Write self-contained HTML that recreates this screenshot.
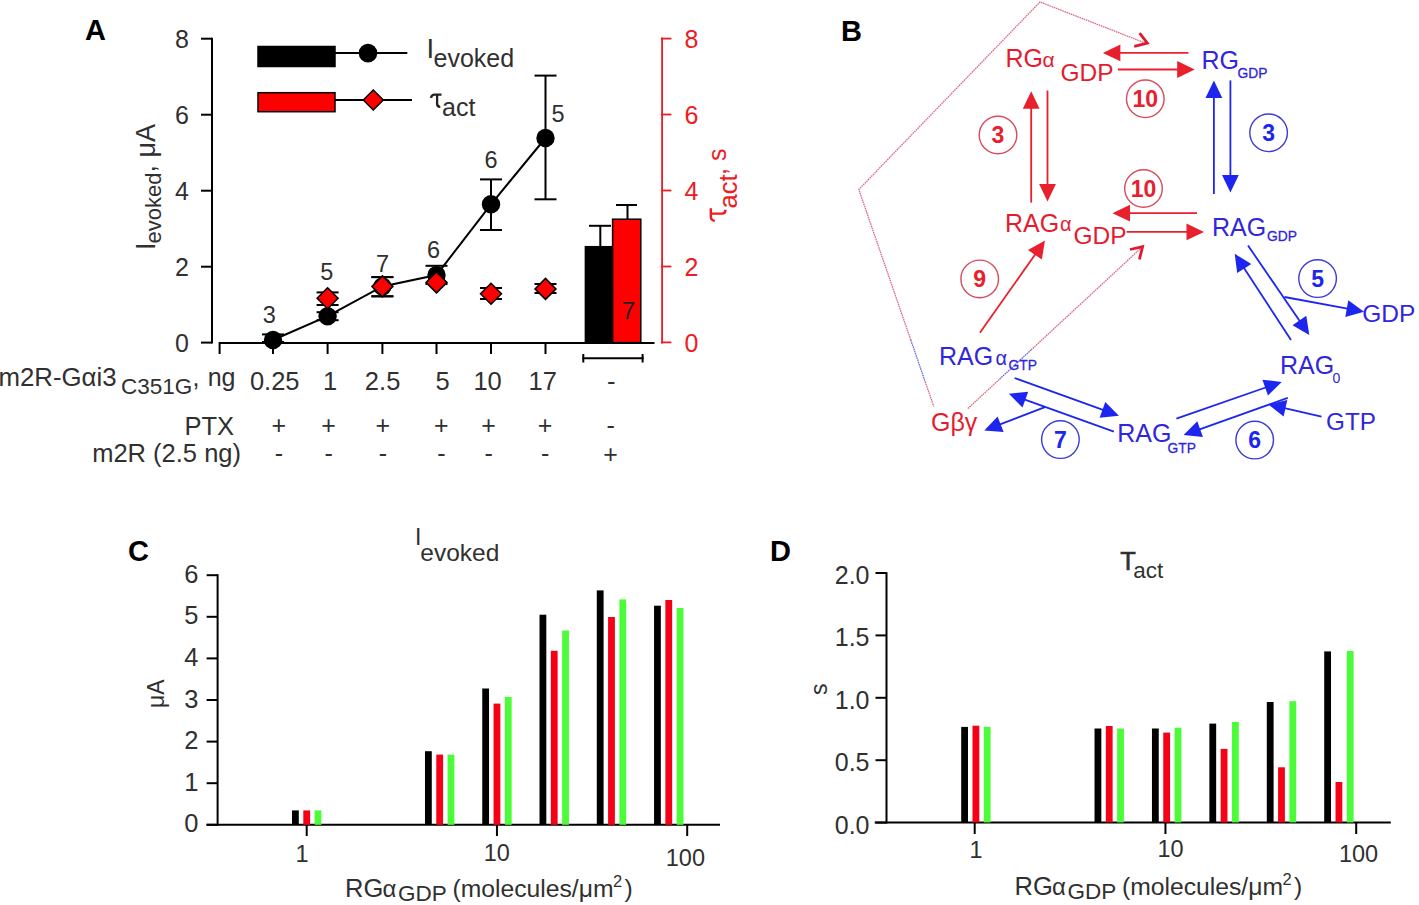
<!DOCTYPE html>
<html><head><meta charset="utf-8"><style>
html,body{margin:0;padding:0;background:#fff;width:1419px;height:905px;overflow:hidden}
svg{display:block;font-family:"Liberation Sans",sans-serif}
</style></head><body>
<svg width="1419" height="905" viewBox="0 0 1419 905">
<rect width="1419" height="905" fill="#fff"/>
<text x="85" y="40" font-size="29" text-anchor="start" fill="#000" font-weight="bold" >A</text>
<line x1="212" y1="37.7" x2="212" y2="343.6" stroke="#000" stroke-width="2" />
<line x1="201" y1="342.6" x2="212" y2="342.6" stroke="#000" stroke-width="2" />
<text x="189" y="351.8" font-size="25" text-anchor="end" fill="#303030" font-weight="normal" >0</text>
<line x1="201" y1="266.7" x2="212" y2="266.7" stroke="#000" stroke-width="2" />
<text x="189" y="275.9" font-size="25" text-anchor="end" fill="#303030" font-weight="normal" >2</text>
<line x1="201" y1="190.7" x2="212" y2="190.7" stroke="#000" stroke-width="2" />
<text x="189" y="199.89999999999998" font-size="25" text-anchor="end" fill="#303030" font-weight="normal" >4</text>
<line x1="201" y1="114.7" x2="212" y2="114.7" stroke="#000" stroke-width="2" />
<text x="189" y="123.9" font-size="25" text-anchor="end" fill="#303030" font-weight="normal" >6</text>
<line x1="201" y1="38.7" x2="212" y2="38.7" stroke="#000" stroke-width="2" />
<text x="189" y="47.900000000000006" font-size="25" text-anchor="end" fill="#303030" font-weight="normal" >8</text>
<g transform="translate(155,250) rotate(-90)">
<text x="0" y="0" font-size="27" fill="#303030">I</text>
<text x="6.5" y="6" font-size="22" fill="#303030">evoked</text>
<text x="77.4" y="0" font-size="27" fill="#303030">, μA</text>
</g>
<line x1="219.6" y1="343" x2="654.5" y2="343" stroke="#000" stroke-width="2" />
<line x1="219.6" y1="342" x2="219.6" y2="354" stroke="#000" stroke-width="2" />
<line x1="273" y1="343" x2="273" y2="354" stroke="#000" stroke-width="2" />
<line x1="327.6" y1="343" x2="327.6" y2="354" stroke="#000" stroke-width="2" />
<line x1="382.4" y1="343" x2="382.4" y2="354" stroke="#000" stroke-width="2" />
<line x1="436.5" y1="343" x2="436.5" y2="354" stroke="#000" stroke-width="2" />
<line x1="491" y1="343" x2="491" y2="354" stroke="#000" stroke-width="2" />
<line x1="545.5" y1="343" x2="545.5" y2="354" stroke="#000" stroke-width="2" />
<line x1="582.3" y1="358.2" x2="643.6" y2="358.2" stroke="#000" stroke-width="2" />
<line x1="583.3" y1="354" x2="583.3" y2="362.5" stroke="#000" stroke-width="2" />
<line x1="642.6" y1="354" x2="642.6" y2="362.5" stroke="#000" stroke-width="2" />
<line x1="662.1" y1="37.6" x2="662.1" y2="343.4" stroke="#ec1c24" stroke-width="1.8" />
<line x1="661" y1="342.4" x2="671.4" y2="342.4" stroke="#ec1c24" stroke-width="1.8" />
<text x="684.5" y="351.59999999999997" font-size="25" text-anchor="start" fill="#ec1c24" font-weight="normal" >0</text>
<line x1="661" y1="266.5" x2="671.4" y2="266.5" stroke="#ec1c24" stroke-width="1.8" />
<text x="684.5" y="275.7" font-size="25" text-anchor="start" fill="#ec1c24" font-weight="normal" >2</text>
<line x1="661" y1="190.5" x2="671.4" y2="190.5" stroke="#ec1c24" stroke-width="1.8" />
<text x="684.5" y="199.7" font-size="25" text-anchor="start" fill="#ec1c24" font-weight="normal" >4</text>
<line x1="661" y1="114.5" x2="671.4" y2="114.5" stroke="#ec1c24" stroke-width="1.8" />
<text x="684.5" y="123.7" font-size="25" text-anchor="start" fill="#ec1c24" font-weight="normal" >6</text>
<line x1="661" y1="38.6" x2="671.4" y2="38.6" stroke="#ec1c24" stroke-width="1.8" />
<text x="684.5" y="47.8" font-size="25" text-anchor="start" fill="#ec1c24" font-weight="normal" >8</text>
<g transform="translate(726.3,222) rotate(-90) translate(0.5,0) scale(1.2)"><path d="M0.4,-9.6 Q1.3,-12.9 4.2,-12.9 L11,-12.9 M6.6,-12.9 L6.6,-3.6 Q6.7,-0.6 9.8,-0.7" fill="none" stroke="#ec1c24" stroke-width="2.0"/></g>
<g transform="translate(726.3,222) rotate(-90)">
<text x="13.5" y="10.9" font-size="25.5" fill="#ec1c24">act</text>
<text x="47" y="0" font-size="25" fill="#ec1c24">,</text>
<text x="61" y="0" font-size="25" fill="#ec1c24">s</text>
</g>
<rect x="585.4" y="246.7" width="27.2" height="95.9" fill="#000" stroke="#000" stroke-width="1.5"/>
<rect x="612.6" y="219.2" width="28.2" height="123.4" fill="#fd0000" stroke="#000" stroke-width="1.5"/>
<line x1="600.3" y1="246.7" x2="600.3" y2="225.8" stroke="#000" stroke-width="2" />
<line x1="589" y1="225.8" x2="611" y2="225.8" stroke="#000" stroke-width="2" />
<line x1="627.5" y1="219.2" x2="627.5" y2="205" stroke="#000" stroke-width="2" />
<line x1="616" y1="205" x2="637" y2="205" stroke="#000" stroke-width="2" />
<text x="628.5" y="319" font-size="24" text-anchor="middle" fill="#222" font-weight="normal" >7</text>
<polyline fill="none" stroke="#000" stroke-width="2" points="273,340 327.6,316.2 382.4,286.4 436.5,275.1 491,204.3 545.5,138"/>
<line x1="273" y1="334.4" x2="273" y2="342" stroke="#000" stroke-width="2" />
<line x1="262" y1="334.4" x2="284" y2="334.4" stroke="#000" stroke-width="2" />
<line x1="262" y1="342" x2="284" y2="342" stroke="#000" stroke-width="2" />
<line x1="327.6" y1="312.2" x2="327.6" y2="320.2" stroke="#000" stroke-width="2" />
<line x1="316.6" y1="312.2" x2="338.6" y2="312.2" stroke="#000" stroke-width="2" />
<line x1="316.6" y1="320.2" x2="338.6" y2="320.2" stroke="#000" stroke-width="2" />
<line x1="382.4" y1="277.1" x2="382.4" y2="296.3" stroke="#000" stroke-width="2" />
<line x1="371.4" y1="277.1" x2="393.4" y2="277.1" stroke="#000" stroke-width="2" />
<line x1="371.4" y1="296.3" x2="393.4" y2="296.3" stroke="#000" stroke-width="2" />
<line x1="436.5" y1="265.8" x2="436.5" y2="284" stroke="#000" stroke-width="2" />
<line x1="425.5" y1="265.8" x2="447.5" y2="265.8" stroke="#000" stroke-width="2" />
<line x1="425.5" y1="284" x2="447.5" y2="284" stroke="#000" stroke-width="2" />
<line x1="491" y1="179.4" x2="491" y2="230" stroke="#000" stroke-width="2" />
<line x1="480" y1="179.4" x2="502" y2="179.4" stroke="#000" stroke-width="2" />
<line x1="480" y1="230" x2="502" y2="230" stroke="#000" stroke-width="2" />
<line x1="545.5" y1="75.6" x2="545.5" y2="199.3" stroke="#000" stroke-width="2" />
<line x1="534.5" y1="75.6" x2="556.5" y2="75.6" stroke="#000" stroke-width="2" />
<line x1="534.5" y1="199.3" x2="556.5" y2="199.3" stroke="#000" stroke-width="2" />
<circle cx="273" cy="340" r="9.2" fill="#000"/>
<circle cx="327.6" cy="316.2" r="9.2" fill="#000"/>
<circle cx="382.4" cy="286.4" r="9.2" fill="#000"/>
<circle cx="436.5" cy="275.1" r="9.2" fill="#000"/>
<circle cx="491" cy="204.3" r="9.2" fill="#000"/>
<circle cx="545.5" cy="138" r="9.2" fill="#000"/>
<line x1="316.6" y1="292.4" x2="338.6" y2="292.4" stroke="#000" stroke-width="2" />
<line x1="316.6" y1="305" x2="338.6" y2="305" stroke="#000" stroke-width="2" />
<line x1="327.6" y1="292.4" x2="327.6" y2="305" stroke="#000" stroke-width="2" />
<polygon points="327.6,287.8 338.1,298.3 327.6,308.8 317.1,298.3" fill="#fd0000" stroke="#000" stroke-width="1.5"/>
<line x1="371.4" y1="277.1" x2="393.4" y2="277.1" stroke="#000" stroke-width="2" />
<line x1="371.4" y1="296.3" x2="393.4" y2="296.3" stroke="#000" stroke-width="2" />
<line x1="382.4" y1="277.1" x2="382.4" y2="296.3" stroke="#000" stroke-width="2" />
<polygon points="382.4,275.9 392.9,286.4 382.4,296.9 371.9,286.4" fill="#fd0000" stroke="#000" stroke-width="1.5"/>
<polygon points="436.5,271.9 447.0,282.4 436.5,292.9 426.0,282.4" fill="#fd0000" stroke="#000" stroke-width="1.5"/>
<line x1="480" y1="288" x2="502" y2="288" stroke="#000" stroke-width="2" />
<line x1="480" y1="299" x2="502" y2="299" stroke="#000" stroke-width="2" />
<line x1="491" y1="288" x2="491" y2="299" stroke="#000" stroke-width="2" />
<polygon points="491,283.3 501.5,293.8 491,304.3 480.5,293.8" fill="#fd0000" stroke="#000" stroke-width="1.5"/>
<line x1="534.5" y1="284" x2="556.5" y2="284" stroke="#000" stroke-width="2" />
<line x1="534.5" y1="293" x2="556.5" y2="293" stroke="#000" stroke-width="2" />
<line x1="545.5" y1="284" x2="545.5" y2="293" stroke="#000" stroke-width="2" />
<polygon points="545.5,278.4 556.0,288.9 545.5,299.4 535.0,288.9" fill="#fd0000" stroke="#000" stroke-width="1.5"/>
<text x="269.4" y="322.6" font-size="23.5" text-anchor="middle" fill="#303030" font-weight="normal" >3</text>
<text x="326.8" y="280" font-size="23.5" text-anchor="middle" fill="#303030" font-weight="normal" >5</text>
<text x="382.5" y="272.1" font-size="23.5" text-anchor="middle" fill="#303030" font-weight="normal" >7</text>
<text x="433.5" y="258.3" font-size="23.5" text-anchor="middle" fill="#303030" font-weight="normal" >6</text>
<text x="491" y="167.5" font-size="23.5" text-anchor="middle" fill="#303030" font-weight="normal" >6</text>
<text x="558" y="122" font-size="23.5" text-anchor="middle" fill="#303030" font-weight="normal" >5</text>
<rect x="258" y="46.5" width="77" height="20" fill="#000" stroke="#000" stroke-width="1.5"/>
<line x1="335" y1="53.1" x2="407.3" y2="53.1" stroke="#000" stroke-width="2" />
<circle cx="368" cy="53.1" r="9.3" fill="#000"/>
<rect x="258" y="92.7" width="77" height="19" fill="#fd0000" stroke="#000" stroke-width="1.5"/>
<line x1="335" y1="100" x2="412" y2="100" stroke="#000" stroke-width="2" />
<polygon points="373.3,90 383.3,100 373.3,110 363.3,100" fill="#fd0000" stroke="#000" stroke-width="1.5"/>
<text x="426.5" y="57.6" font-size="27.5" text-anchor="start" fill="#303030" font-weight="normal" >I</text>
<text x="433.5" y="66.5" font-size="25" text-anchor="start" fill="#303030" font-weight="normal" >evoked</text>
<g transform="translate(430.5,107.5)"><path d="M0.4,-9.6 Q1.3,-12.9 4.2,-12.9 L11,-12.9 M6.6,-12.9 L6.6,-3.6 Q6.7,-0.6 9.8,-0.7" fill="none" stroke="#222" stroke-width="2.3"/></g>
<text x="442" y="115.5" font-size="25" text-anchor="start" fill="#303030" font-weight="normal" >act</text>
<text x="-1.5" y="386.3" font-size="25.8" text-anchor="start" fill="#303030" font-weight="normal" >m2R-Gαi3</text>
<text x="121" y="393.9" font-size="22.5" text-anchor="start" fill="#303030" font-weight="normal" >C351G</text>
<text x="192.5" y="386.3" font-size="25" text-anchor="start" fill="#303030" font-weight="normal" >,</text>
<text x="207.7" y="386" font-size="25" text-anchor="start" fill="#303030" font-weight="normal" >ng</text>
<text x="274.7" y="389.5" font-size="25.5" text-anchor="middle" fill="#303030" font-weight="normal" >0.25</text>
<text x="330" y="389.5" font-size="25.5" text-anchor="middle" fill="#303030" font-weight="normal" >1</text>
<text x="382.6" y="389.5" font-size="25.5" text-anchor="middle" fill="#303030" font-weight="normal" >2.5</text>
<text x="442.7" y="389.5" font-size="25.5" text-anchor="middle" fill="#303030" font-weight="normal" >5</text>
<text x="487.6" y="389.5" font-size="25.5" text-anchor="middle" fill="#303030" font-weight="normal" >10</text>
<text x="542.8" y="389.5" font-size="25.5" text-anchor="middle" fill="#303030" font-weight="normal" >17</text>
<text x="611.3" y="389.5" font-size="25.5" text-anchor="middle" fill="#303030" font-weight="normal" >-</text>
<text x="234" y="434.5" font-size="25.5" text-anchor="end" fill="#303030" font-weight="normal" >PTX</text>
<text x="278.8" y="434" font-size="25" text-anchor="middle" fill="#303030" font-weight="normal" >+</text>
<text x="328.6" y="434" font-size="25" text-anchor="middle" fill="#303030" font-weight="normal" >+</text>
<text x="382.8" y="434" font-size="25" text-anchor="middle" fill="#303030" font-weight="normal" >+</text>
<text x="441.3" y="434" font-size="25" text-anchor="middle" fill="#303030" font-weight="normal" >+</text>
<text x="488.6" y="434" font-size="25" text-anchor="middle" fill="#303030" font-weight="normal" >+</text>
<text x="545.0999999999999" y="434" font-size="25" text-anchor="middle" fill="#303030" font-weight="normal" >+</text>
<text x="610.6" y="434" font-size="25" text-anchor="middle" fill="#303030" font-weight="normal" >-</text>
<text x="241" y="462" font-size="25.5" text-anchor="end" fill="#303030" font-weight="normal" >m2R (2.5 ng)</text>
<text x="278.8" y="462" font-size="25" text-anchor="middle" fill="#303030" font-weight="normal" >-</text>
<text x="328.6" y="462" font-size="25" text-anchor="middle" fill="#303030" font-weight="normal" >-</text>
<text x="382.8" y="462" font-size="25" text-anchor="middle" fill="#303030" font-weight="normal" >-</text>
<text x="441.3" y="462" font-size="25" text-anchor="middle" fill="#303030" font-weight="normal" >-</text>
<text x="488.6" y="462" font-size="25" text-anchor="middle" fill="#303030" font-weight="normal" >-</text>
<text x="545.0999999999999" y="462" font-size="25" text-anchor="middle" fill="#303030" font-weight="normal" >-</text>
<text x="610.6" y="463" font-size="25" text-anchor="middle" fill="#303030" font-weight="normal" >+</text>
<text x="128" y="561.3" font-size="29" text-anchor="start" fill="#000" font-weight="bold" >C</text>
<line x1="217.6" y1="574.2" x2="217.6" y2="825.8" stroke="#000" stroke-width="2" />
<line x1="206.6" y1="824.8" x2="217.6" y2="824.8" stroke="#000" stroke-width="2" />
<text x="198.5" y="832.3" font-size="25.5" text-anchor="end" fill="#303030" font-weight="normal" >0</text>
<line x1="206.6" y1="783.1999999999999" x2="217.6" y2="783.1999999999999" stroke="#000" stroke-width="2" />
<text x="198.5" y="790.6999999999999" font-size="25.5" text-anchor="end" fill="#303030" font-weight="normal" >1</text>
<line x1="206.6" y1="741.5999999999999" x2="217.6" y2="741.5999999999999" stroke="#000" stroke-width="2" />
<text x="198.5" y="749.0999999999999" font-size="25.5" text-anchor="end" fill="#303030" font-weight="normal" >2</text>
<line x1="206.6" y1="700.0" x2="217.6" y2="700.0" stroke="#000" stroke-width="2" />
<text x="198.5" y="707.5" font-size="25.5" text-anchor="end" fill="#303030" font-weight="normal" >3</text>
<line x1="206.6" y1="658.4" x2="217.6" y2="658.4" stroke="#000" stroke-width="2" />
<text x="198.5" y="665.9" font-size="25.5" text-anchor="end" fill="#303030" font-weight="normal" >4</text>
<line x1="206.6" y1="616.8" x2="217.6" y2="616.8" stroke="#000" stroke-width="2" />
<text x="198.5" y="624.3" font-size="25.5" text-anchor="end" fill="#303030" font-weight="normal" >5</text>
<line x1="206.6" y1="575.1999999999999" x2="217.6" y2="575.1999999999999" stroke="#000" stroke-width="2" />
<text x="198.5" y="582.6999999999999" font-size="25.5" text-anchor="end" fill="#303030" font-weight="normal" >6</text>
<text transform="translate(164,708) rotate(-90)" font-size="23" fill="#303030">μA</text>
<line x1="206.5" y1="824.8" x2="720" y2="824.8" stroke="#000" stroke-width="2" />
<line x1="306.7" y1="824.8" x2="306.7" y2="836" stroke="#000" stroke-width="2" />
<line x1="496.95" y1="824.8" x2="496.95" y2="836" stroke="#000" stroke-width="2" />
<line x1="687.2" y1="824.8" x2="687.2" y2="836" stroke="#000" stroke-width="2" />
<text x="302" y="862" font-size="23.5" text-anchor="middle" fill="#303030" font-weight="normal" >1</text>
<text x="496.7" y="861" font-size="23.5" text-anchor="middle" fill="#303030" font-weight="normal" >10</text>
<text x="685.4" y="865.5" font-size="23.5" text-anchor="middle" fill="#303030" font-weight="normal" >100</text>
<text x="415" y="544.8" font-size="23" text-anchor="start" fill="#303030" font-weight="normal" >I</text>
<text x="420.3" y="561.3" font-size="24.5" text-anchor="start" fill="#303030" font-weight="normal" >evoked</text>
<text x="345" y="896.7" font-size="25.5" text-anchor="start" fill="#303030" font-weight="normal" >RG</text>
<text x="382.5" y="896.7" font-size="24" text-anchor="start" fill="#303030" font-weight="normal" >α</text>
<text x="398" y="901" font-size="22.5" text-anchor="start" fill="#303030" font-weight="normal" >GDP</text>
<text x="452.5" y="896.7" font-size="24.7" text-anchor="start" fill="#303030" font-weight="normal" >(molecules/μm</text>
<text x="613" y="887.2" font-size="16.5" text-anchor="start" fill="#303030" font-weight="normal" >2</text>
<text x="624.5" y="896.7" font-size="24.7" text-anchor="start" fill="#303030" font-weight="normal" >)</text>
<rect x="292.0" y="810.4" width="6.8" height="14.399999999999977" fill="#000" stroke="none" stroke-width="0"/>
<rect x="303.3" y="810.4" width="6.8" height="14.399999999999977" fill="#f50016" stroke="none" stroke-width="0"/>
<rect x="314.6" y="810.4" width="6.8" height="14.399999999999977" fill="#4cfc38" stroke="none" stroke-width="0"/>
<rect x="424.97904332492755" y="751.2" width="6.8" height="73.59999999999991" fill="#000" stroke="none" stroke-width="0"/>
<rect x="436.27904332492756" y="754.6" width="6.8" height="70.19999999999993" fill="#f50016" stroke="none" stroke-width="0"/>
<rect x="447.57904332492757" y="754.6" width="6.8" height="70.19999999999993" fill="#4cfc38" stroke="none" stroke-width="0"/>
<rect x="482.25" y="688.5" width="6.8" height="136.29999999999995" fill="#000" stroke="none" stroke-width="0"/>
<rect x="493.55" y="703.6" width="6.8" height="121.19999999999993" fill="#f50016" stroke="none" stroke-width="0"/>
<rect x="504.85" y="697" width="6.8" height="127.79999999999995" fill="#4cfc38" stroke="none" stroke-width="0"/>
<rect x="539.5209566750725" y="614.7" width="6.8" height="210.0999999999999" fill="#000" stroke="none" stroke-width="0"/>
<rect x="550.8209566750725" y="650.8" width="6.8" height="174.0" fill="#f50016" stroke="none" stroke-width="0"/>
<rect x="562.1209566750724" y="630.5" width="6.8" height="194.29999999999995" fill="#4cfc38" stroke="none" stroke-width="0"/>
<rect x="596.7919133501449" y="590.4" width="6.8" height="234.39999999999998" fill="#000" stroke="none" stroke-width="0"/>
<rect x="608.0919133501449" y="617" width="6.8" height="207.79999999999995" fill="#f50016" stroke="none" stroke-width="0"/>
<rect x="619.3919133501448" y="599.4" width="6.8" height="225.39999999999998" fill="#4cfc38" stroke="none" stroke-width="0"/>
<rect x="654.0628700252173" y="605.7" width="6.8" height="219.0999999999999" fill="#000" stroke="none" stroke-width="0"/>
<rect x="665.3628700252173" y="600" width="6.8" height="224.79999999999995" fill="#f50016" stroke="none" stroke-width="0"/>
<rect x="676.6628700252172" y="608" width="6.8" height="216.79999999999995" fill="#4cfc38" stroke="none" stroke-width="0"/>
<text x="770" y="560.7" font-size="29" text-anchor="start" fill="#000" font-weight="bold" >D</text>
<line x1="886.5" y1="572.2" x2="886.5" y2="823.4" stroke="#000" stroke-width="2" />
<line x1="875.5" y1="822.6" x2="886.5" y2="822.6" stroke="#000" stroke-width="2" />
<text x="869.5" y="833.6" font-size="25" text-anchor="end" fill="#303030" font-weight="normal" >0.0</text>
<line x1="875.5" y1="760.2" x2="886.5" y2="760.2" stroke="#000" stroke-width="2" />
<text x="869.5" y="771.2" font-size="25" text-anchor="end" fill="#303030" font-weight="normal" >0.5</text>
<line x1="875.5" y1="697.8000000000001" x2="886.5" y2="697.8000000000001" stroke="#000" stroke-width="2" />
<text x="869.5" y="708.8000000000001" font-size="25" text-anchor="end" fill="#303030" font-weight="normal" >1.0</text>
<line x1="875.5" y1="635.4000000000001" x2="886.5" y2="635.4000000000001" stroke="#000" stroke-width="2" />
<text x="869.5" y="646.4000000000001" font-size="25" text-anchor="end" fill="#303030" font-weight="normal" >1.5</text>
<line x1="875.5" y1="573.0" x2="886.5" y2="573.0" stroke="#000" stroke-width="2" />
<text x="869.5" y="584.0" font-size="25" text-anchor="end" fill="#303030" font-weight="normal" >2.0</text>
<text transform="translate(827,695) rotate(-90)" font-size="23" fill="#303030">s</text>
<line x1="874.7" y1="822.4" x2="1390.8" y2="822.4" stroke="#000" stroke-width="2" />
<line x1="974.7" y1="822.4" x2="974.7" y2="834" stroke="#000" stroke-width="2" />
<line x1="1165.45" y1="822.4" x2="1165.45" y2="834" stroke="#000" stroke-width="2" />
<line x1="1356.2" y1="822.4" x2="1356.2" y2="834" stroke="#000" stroke-width="2" />
<text x="976" y="857.5" font-size="23.5" text-anchor="middle" fill="#303030" font-weight="normal" >1</text>
<text x="1170.5" y="856.5" font-size="23.5" text-anchor="middle" fill="#303030" font-weight="normal" >10</text>
<text x="1358.6" y="861.5" font-size="23.5" text-anchor="middle" fill="#303030" font-weight="normal" >100</text>
<text x="1120.3" y="570" font-size="25.5" text-anchor="start" fill="#303030" font-weight="normal" stroke="#303030" stroke-width="0.6">T</text>
<text x="1133.2" y="577.7" font-size="22.5" text-anchor="start" fill="#303030" font-weight="normal" >act</text>
<text x="1014.5" y="894.9000000000001" font-size="25.5" text-anchor="start" fill="#303030" font-weight="normal" >RG</text>
<text x="1052.0" y="894.9000000000001" font-size="24" text-anchor="start" fill="#303030" font-weight="normal" >α</text>
<text x="1067.5" y="899.2" font-size="22.5" text-anchor="start" fill="#303030" font-weight="normal" >GDP</text>
<text x="1122.0" y="894.9000000000001" font-size="24.7" text-anchor="start" fill="#303030" font-weight="normal" >(molecules/μm</text>
<text x="1282.5" y="885.4000000000001" font-size="16.5" text-anchor="start" fill="#303030" font-weight="normal" >2</text>
<text x="1294.0" y="894.9000000000001" font-size="24.7" text-anchor="start" fill="#303030" font-weight="normal" >)</text>
<rect x="961.2000000000002" y="726.9" width="6.8" height="95.5" fill="#000" stroke="none" stroke-width="0"/>
<rect x="972.5000000000001" y="725.7" width="6.8" height="96.69999999999993" fill="#f50016" stroke="none" stroke-width="0"/>
<rect x="983.8000000000001" y="726.9" width="6.8" height="95.5" fill="#4cfc38" stroke="none" stroke-width="0"/>
<rect x="1094.5285283270957" y="728.5" width="6.8" height="93.89999999999998" fill="#000" stroke="none" stroke-width="0"/>
<rect x="1105.8285283270957" y="726" width="6.8" height="96.39999999999998" fill="#f50016" stroke="none" stroke-width="0"/>
<rect x="1117.1285283270956" y="728.5" width="6.8" height="93.89999999999998" fill="#4cfc38" stroke="none" stroke-width="0"/>
<rect x="1151.95" y="728.5" width="6.8" height="93.89999999999998" fill="#000" stroke="none" stroke-width="0"/>
<rect x="1163.25" y="732.6" width="6.8" height="89.79999999999995" fill="#f50016" stroke="none" stroke-width="0"/>
<rect x="1174.55" y="727.7" width="6.8" height="94.69999999999993" fill="#4cfc38" stroke="none" stroke-width="0"/>
<rect x="1209.3714716729046" y="723.6" width="6.8" height="98.79999999999995" fill="#000" stroke="none" stroke-width="0"/>
<rect x="1220.6714716729045" y="748.9" width="6.8" height="73.5" fill="#f50016" stroke="none" stroke-width="0"/>
<rect x="1231.9714716729045" y="722" width="6.8" height="100.39999999999998" fill="#4cfc38" stroke="none" stroke-width="0"/>
<rect x="1266.792943345809" y="702" width="6.8" height="120.39999999999998" fill="#000" stroke="none" stroke-width="0"/>
<rect x="1278.0929433458089" y="767.3" width="6.8" height="55.10000000000002" fill="#f50016" stroke="none" stroke-width="0"/>
<rect x="1289.3929433458088" y="701.2" width="6.8" height="121.19999999999993" fill="#4cfc38" stroke="none" stroke-width="0"/>
<rect x="1324.2144150187132" y="651.4" width="6.8" height="171.0" fill="#000" stroke="none" stroke-width="0"/>
<rect x="1335.5144150187132" y="782" width="6.8" height="40.39999999999998" fill="#f50016" stroke="none" stroke-width="0"/>
<rect x="1346.8144150187131" y="651" width="6.8" height="171.39999999999998" fill="#4cfc38" stroke="none" stroke-width="0"/>
<text x="841" y="40.5" font-size="29" text-anchor="start" fill="#000" font-weight="bold" >B</text>
<polyline points="910.8,340 858.8,189.5 1040,2 1146.5,43.5" fill="none" stroke="#dc6a82" stroke-width="1.3" stroke-dasharray="1.6,0.7"/>
<line x1="925.2" y1="381.7" x2="933.8" y2="406.5" stroke="#dc6a82" stroke-width="1.3" stroke-dasharray="1.6,0.7"/>
<line x1="910.8" y1="340" x2="925.2" y2="381.7" stroke="#6a6ae0" stroke-width="1.3" stroke-dasharray="1.6,0.7"/>
<polyline points="1139.6,33.1 1147.4,43.2 1134.2,46.3" fill="none" stroke="#de1a30" stroke-width="2.8"/>
<line x1="967.8" y1="408.6" x2="999.7" y2="379" stroke="#dc6a82" stroke-width="1.3" stroke-dasharray="1.6,0.7"/>
<line x1="1031" y1="350" x2="1142.6" y2="246.6" stroke="#dc6a82" stroke-width="1.3" stroke-dasharray="1.6,0.7"/>
<line x1="999.7" y1="379" x2="1031" y2="350" stroke="#6a6ae0" stroke-width="1.3" stroke-dasharray="1.6,0.7"/>
<polyline points="1130,249.5 1142.6,246.6 1139.4,259.4" fill="none" stroke="#de1a30" stroke-width="2.8"/>
<text x="1005.4" y="66.9" font-size="25" text-anchor="start" fill="#e41c30" font-weight="normal" >RG</text>
<text x="1042.5" y="66.9" font-size="21" text-anchor="start" fill="#e41c30" font-weight="normal" >α</text>
<text x="1060.5" y="81.2" font-size="24.5" text-anchor="start" fill="#e41c30" font-weight="normal" >GDP</text>
<text x="1005" y="231.6" font-size="25" text-anchor="start" fill="#e41c30" font-weight="normal" >RAG</text>
<text x="1060" y="231.3" font-size="20" text-anchor="start" fill="#e41c30" font-weight="normal" >α</text>
<text x="1073.5" y="244" font-size="24.5" text-anchor="start" fill="#e41c30" font-weight="normal" >GDP</text>
<text x="931" y="431.2" font-size="25" text-anchor="start" fill="#e41c30" font-weight="normal" >Gβγ</text>
<line x1="1188.4" y1="52.9" x2="1118.4" y2="52.9" stroke="#e8202e" stroke-width="1.8" />
<polygon points="1102.9,52.9 1120.4,44.5 1120.4,61.3" fill="#e8202e"/>
<line x1="1117.9" y1="69.5" x2="1179.2" y2="69.5" stroke="#e8202e" stroke-width="1.8" />
<polygon points="1194.7,69.5 1177.2,77.9 1177.2,61.1" fill="#e8202e"/>
<line x1="1031.2" y1="202.6" x2="1031.2" y2="106.7" stroke="#e8202e" stroke-width="1.8" />
<polygon points="1031.2,91.2 1039.6,108.7 1022.8,108.7" fill="#e8202e"/>
<line x1="1047.5" y1="90.5" x2="1047.5" y2="186.0" stroke="#e8202e" stroke-width="1.8" />
<polygon points="1047.5,201.5 1039.1,184.0 1055.9,184.0" fill="#e8202e"/>
<line x1="1197" y1="213.2" x2="1128.0" y2="213.2" stroke="#e8202e" stroke-width="1.8" />
<polygon points="1112.5,213.2 1130.0,204.8 1130.0,221.6" fill="#e8202e"/>
<line x1="1126.6" y1="231.9" x2="1188.5" y2="231.9" stroke="#e8202e" stroke-width="1.8" />
<polygon points="1204.0,231.9 1186.5,240.3 1186.5,223.5" fill="#e8202e"/>
<line x1="979.9" y1="332.8" x2="1036.0662601334895" y2="253.16642380459155" stroke="#e8202e" stroke-width="1.8" />
<polygon points="1045.0,240.5 1041.8,259.6 1028.0,250.0" fill="#e8202e"/>
<circle cx="1145.3" cy="98.8" r="18.8" fill="none" stroke="#d84a5c" stroke-width="1.4"/>
<text x="1145.3" y="107.1" font-size="23" text-anchor="middle" fill="#e8202e" font-weight="bold" >10</text>
<circle cx="998" cy="135" r="18.8" fill="none" stroke="#d84a5c" stroke-width="1.4"/>
<text x="998" y="143.3" font-size="23" text-anchor="middle" fill="#e8202e" font-weight="bold" >3</text>
<circle cx="1143.5" cy="188.5" r="18.8" fill="none" stroke="#d84a5c" stroke-width="1.4"/>
<text x="1143.5" y="196.8" font-size="23" text-anchor="middle" fill="#e8202e" font-weight="bold" >10</text>
<circle cx="979.7" cy="278.9" r="18.8" fill="none" stroke="#d84a5c" stroke-width="1.4"/>
<text x="979.7" y="287.2" font-size="23" text-anchor="middle" fill="#e8202e" font-weight="bold" >9</text>
<text x="1201.5" y="69.2" font-size="25" text-anchor="start" fill="#3026dc" font-weight="normal" >RG</text>
<text x="1237.5" y="78" font-size="13.8" fill="#3026dc" stroke="#3026dc" stroke-width="0.3">GDP</text>
<text x="1212" y="235.6" font-size="25" text-anchor="start" fill="#3026dc" font-weight="normal" >RAG</text>
<text x="1267" y="241" font-size="13.8" fill="#3026dc" stroke="#3026dc" stroke-width="0.3">GDP</text>
<text x="939" y="365.3" font-size="25" text-anchor="start" fill="#3026dc" font-weight="normal" >RAG</text>
<text x="995.5" y="365.3" font-size="20" text-anchor="start" fill="#3026dc" font-weight="normal" >α</text>
<text x="1008.5" y="369.8" font-size="13.8" fill="#3026dc" stroke="#3026dc" stroke-width="0.3">GTP</text>
<text x="1117.3" y="442.2" font-size="25" text-anchor="start" fill="#3026dc" font-weight="normal" >RAG</text>
<text x="1167.5" y="453.4" font-size="13.8" fill="#3026dc" stroke="#3026dc" stroke-width="0.3">GTP</text>
<text x="1326" y="429.9" font-size="24.3" text-anchor="start" fill="#3026dc" font-weight="normal" >GTP</text>
<text x="1280" y="373.7" font-size="25" text-anchor="start" fill="#3026dc" font-weight="normal" >RAG</text>
<text x="1332.5" y="382.9" font-size="14" text-anchor="start" fill="#3026dc" font-weight="normal" >0</text>
<text x="1362.3" y="321.9" font-size="24.5" text-anchor="start" fill="#3026dc" font-weight="normal" >GDP</text>
<line x1="1213.9" y1="194" x2="1213.9" y2="96.0" stroke="#1c26ee" stroke-width="1.8" />
<polygon points="1213.9,80.5 1222.3,98.0 1205.5,98.0" fill="#1c26ee"/>
<line x1="1230.4" y1="80.4" x2="1230.4" y2="177.0" stroke="#1c26ee" stroke-width="1.8" />
<polygon points="1230.4,192.5 1222.0,175.0 1238.8,175.0" fill="#1c26ee"/>
<line x1="1248" y1="245.5" x2="1300.5412536408642" y2="322.21194454905964" stroke="#1c26ee" stroke-width="1.8" />
<polygon points="1309.3,335.0 1292.5,325.3 1306.3,315.8" fill="#1c26ee"/>
<line x1="1291" y1="340" x2="1243.1758741033204" y2="266.77727082959524" stroke="#1c26ee" stroke-width="1.8" />
<polygon points="1234.7,253.8 1251.3,263.9 1237.2,273.0" fill="#1c26ee"/>
<line x1="1284.5" y1="297" x2="1348.7618049584273" y2="308.96320394194623" stroke="#1c26ee" stroke-width="1.8" />
<polygon points="1364.0,311.8 1345.3,316.9 1348.3,300.3" fill="#1c26ee"/>
<line x1="1014.6" y1="378" x2="1104.3230274873974" y2="410.4310463688866" stroke="#1c26ee" stroke-width="1.8" />
<polygon points="1118.9,415.7 1099.6,417.7 1105.3,401.9" fill="#1c26ee"/>
<line x1="1113.9" y1="431.6" x2="1023.4837548839653" y2="399.0501517582275" stroke="#1c26ee" stroke-width="1.8" />
<polygon points="1008.9,393.8 1028.2,391.8 1022.5,407.6" fill="#1c26ee"/>
<line x1="1044.9" y1="407.2" x2="998.7674721096608" y2="424.93742408984986" stroke="#1c26ee" stroke-width="1.8" />
<polygon points="984.3,430.5 997.6,416.4 1003.6,432.1" fill="#1c26ee"/>
<line x1="1176.4" y1="418.7" x2="1267.0678140541709" y2="387.0136224388082" stroke="#1c26ee" stroke-width="1.8" />
<polygon points="1281.7,381.9 1268.0,395.6 1262.4,379.7" fill="#1c26ee"/>
<line x1="1287.8" y1="397.8" x2="1198.1976334243031" y2="429.788560812053" stroke="#1c26ee" stroke-width="1.8" />
<polygon points="1183.6,435.0 1197.3,421.2 1202.9,437.0" fill="#1c26ee"/>
<line x1="1321.5" y1="416.6" x2="1283.5064128716442" y2="407.8707765919785" stroke="#1c26ee" stroke-width="1.8" />
<polygon points="1268.4,404.4 1287.3,400.1 1283.6,416.5" fill="#1c26ee"/>
<circle cx="1268.6" cy="132.8" r="18.8" fill="none" stroke="#3b3bd8" stroke-width="1.4"/>
<text x="1268.6" y="141.10000000000002" font-size="23" text-anchor="middle" fill="#1c26ee" font-weight="bold" >3</text>
<circle cx="1317.6" cy="278.6" r="18.8" fill="none" stroke="#3b3bd8" stroke-width="1.4"/>
<text x="1317.6" y="286.90000000000003" font-size="23" text-anchor="middle" fill="#1c26ee" font-weight="bold" >5</text>
<circle cx="1060.4" cy="439.6" r="18.8" fill="none" stroke="#3b3bd8" stroke-width="1.4"/>
<text x="1060.4" y="447.90000000000003" font-size="23" text-anchor="middle" fill="#1c26ee" font-weight="bold" >7</text>
<circle cx="1254.7" cy="440.1" r="18.8" fill="none" stroke="#3b3bd8" stroke-width="1.4"/>
<text x="1254.7" y="448.40000000000003" font-size="23" text-anchor="middle" fill="#1c26ee" font-weight="bold" >6</text>
</svg></body></html>
